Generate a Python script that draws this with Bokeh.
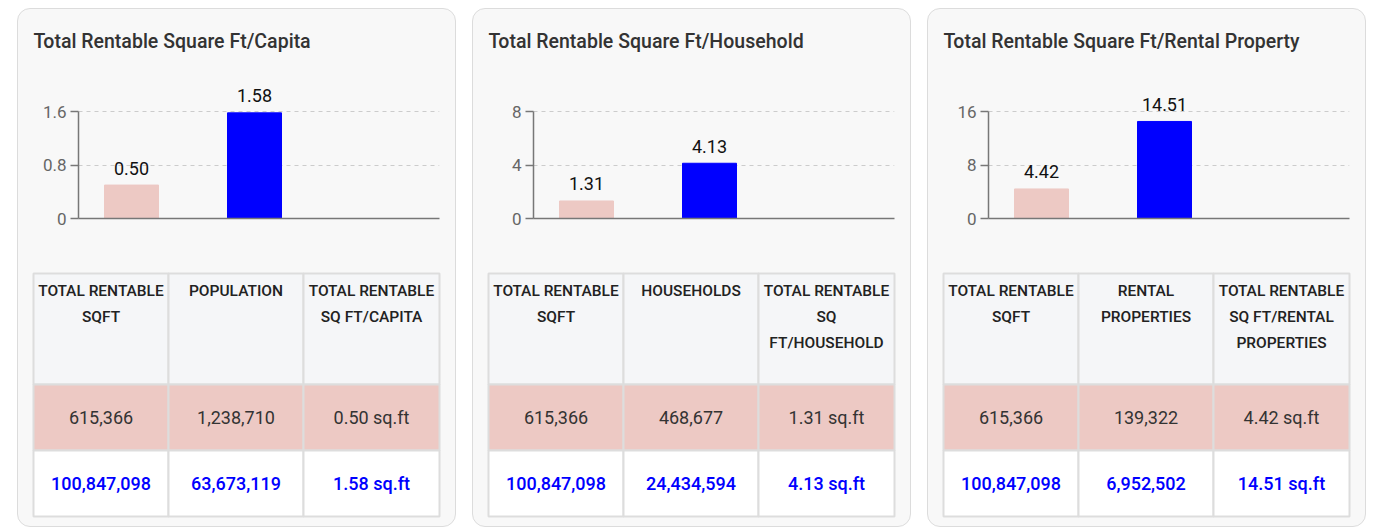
from bokeh.plotting import figure
from bokeh.layouts import row, column
from bokeh.models import Range1d, FixedTicker, ColumnDataSource, CustomJSTickFormatter
from bokeh.embed import file_html
from bokeh.resources import INLINE
from bokeh.core.properties import value

FONT = "Roboto"
FONT_MED = "Roboto Medium"

# ---------------- data ----------------
titles = ["Total Rentable Square Ft/Capita",
          "Total Rentable Square Ft/Household",
          "Total Rentable Square Ft/Rental Property"]
bar_categories = ["Local", "National"]
local_ratio = [0.50, 1.31, 4.42]
national_ratio = [1.58, 4.13, 14.51]
axis_ticks = [[0, 0.8, 1.6], [0, 4, 8], [0, 8, 16]]

rentable_sqft = [615366, 100847098]
denominator_local = [1238710, 468677, 139322]
denominator_national = [63673119, 24434594, 6952502]

header_col1 = [["TOTAL RENTABLE", "SQFT"]] * 3
header_col2 = [["POPULATION"], ["HOUSEHOLDS"], ["RENTAL", "PROPERTIES"]]
header_col3 = [["TOTAL RENTABLE", "SQ FT/CAPITA"],
               ["TOTAL RENTABLE", "SQ", "FT/HOUSEHOLD"],
               ["TOTAL RENTABLE", "SQ FT/RENTAL", "PROPERTIES"]]

# ---------------- style ----------------
PINK = "#EDC9C4"
BLUE = "#0000FF"
CARD_BG = "#F8F8F8"
HEADER_BG = "#F5F6F8"
GRID_LINE = "#DDDDDD"
AXIS_COLOR = "#777777"

INNER_W = 437
TITLE_H = 50
CHART_H = 205
TABLE_H = 262


def blank(p):
    p.outline_line_color = None
    p.background_fill_color = None
    p.border_fill_color = None


def title_fig(text):
    p = figure(width=INNER_W, height=TITLE_H, x_range=Range1d(0, INNER_W),
               y_range=Range1d(TITLE_H, 0), x_axis_location=None, y_axis_location=None,
               toolbar_location=None, output_backend="svg", min_border=0, frame_align=False)
    blank(p)
    p.grid.visible = False
    p.text(x=[15], y=[32], text=[text], text_font=value(FONT_MED), text_font_size="19.5px",
           text_color="#333333", text_baseline="middle")
    return p


def chart_fig(i):
    ticks = axis_ticks[i]
    top = ticks[-1]
    frame_h = 148
    top_px = 107
    p = figure(width=INNER_W, height=CHART_H,
               x_range=Range1d((60 - 113) / 123, (421 - 113) / 123),
               y_range=Range1d(0, top * frame_h / top_px),
               toolbar_location=None, output_backend="svg", frame_align=False,
               min_border_left=60, min_border_right=16, min_border_top=11, min_border_bottom=46)
    blank(p)

    src = ColumnDataSource(dict(
        x=list(range(len(bar_categories))),
        top=[local_ratio[i], national_ratio[i]],
        color=[PINK, BLUE],
        label=[f"{local_ratio[i]:.2f}", f"{national_ratio[i]:.2f}"],
    ))
    p.vbar(x="x", top="top", width=54 / 123, color="color", source=src)
    p.text(x="x", y="top", text="label", source=src, y_offset=-17,
           text_align="center", text_baseline="middle",
           text_font=value(FONT), text_font_size="18px", text_color="#111111")

    ya = p.yaxis[0]
    ya.ticker = FixedTicker(ticks=ticks)
    ya.formatter = CustomJSTickFormatter(code="return String(tick)")
    ya.bounds = (0, top)
    ya.axis_line_color = AXIS_COLOR
    ya.axis_line_width = 1.5
    ya.major_tick_line_color = AXIS_COLOR
    ya.major_tick_line_width = 1.5
    ya.major_tick_out = 8
    ya.major_tick_in = 0
    ya.minor_tick_line_color = None
    ya.major_label_standoff = 4
    ya.major_label_text_font = FONT
    ya.major_label_text_font_size = "17px"
    ya.major_label_text_color = "#666666"

    xa = p.xaxis[0]
    xa.ticker = FixedTicker(ticks=[])
    xa.axis_line_color = AXIS_COLOR
    xa.axis_line_width = 1.5
    xa.major_tick_line_color = None
    xa.minor_tick_line_color = None
    xa.major_label_text_font_size = "0px"

    p.xgrid.visible = False
    p.ygrid.ticker = FixedTicker(ticks=ticks[1:])
    p.ygrid.grid_line_color = "#CCCCCC"
    p.ygrid.grid_line_dash = "4 4"
    p.ygrid.grid_line_width = 1
    return p


def table_fig(i):
    p = figure(width=INNER_W, height=TABLE_H, x_range=Range1d(0, INNER_W),
               y_range=Range1d(TABLE_H, 0), x_axis_location=None, y_axis_location=None,
               toolbar_location=None, output_backend="svg", min_border=0, frame_align=False)
    blank(p)
    p.grid.visible = False

    col_edges = [15, 150, 285, 421]
    row_edges = [9, 120, 186, 252]
    row_fills = [HEADER_BG, PINK, "#FFFFFF"]

    left, right, topv, bottom, fill = [], [], [], [], []
    for r in range(3):
        for c in range(3):
            left.append(col_edges[c]); right.append(col_edges[c + 1])
            topv.append(row_edges[r]); bottom.append(row_edges[r + 1])
            fill.append(row_fills[r])
    p.quad(left=left, right=right, top=topv, bottom=bottom, fill_color=fill,
           line_color=GRID_LINE, line_width=2)

    centers = [(col_edges[c] + col_edges[c + 1]) / 2 for c in range(3)]

    hx, hy, ht = [], [], []
    for c, lines in enumerate([header_col1[i], header_col2[i], header_col3[i]]):
        for k, line in enumerate(lines):
            hx.append(centers[c]); hy.append(row_edges[0] + 17 + 26 * k); ht.append(line)
    p.text(x=hx, y=hy, text=ht, text_align="center", text_baseline="middle",
           text_font=value(FONT_MED), text_font_size="15.5px",
           text_color="#222222")

    r1 = [f"{rentable_sqft[0]:,}", f"{denominator_local[i]:,}", f"{local_ratio[i]:.2f} sq.ft"]
    p.text(x=centers, y=[(row_edges[1] + row_edges[2]) / 2] * 3, text=r1,
           text_align="center", text_baseline="middle",
           text_font=value(FONT), text_font_size="18px", text_color="#333333")
    r2 = [f"{rentable_sqft[1]:,}", f"{denominator_national[i]:,}", f"{national_ratio[i]:.2f} sq.ft"]
    p.text(x=centers, y=[(row_edges[2] + row_edges[3]) / 2] * 3, text=r2,
           text_align="center", text_baseline="middle",
           text_font=value(FONT_MED), text_font_size="18px",
           text_color=BLUE)
    return p


cards = []
for i in range(3):
    card = column(title_fig(titles[i]), chart_fig(i), table_fig(i), spacing=0,
                  styles={"background-color": CARD_BG, "border": "1px solid #DCDCDC",
                          "border-radius": "13px"})
    cards.append(card)

layout = row(*cards, spacing=16, margin=(8, 0, 0, 17))

open("out.html", "w").write(file_html(layout, INLINE))
